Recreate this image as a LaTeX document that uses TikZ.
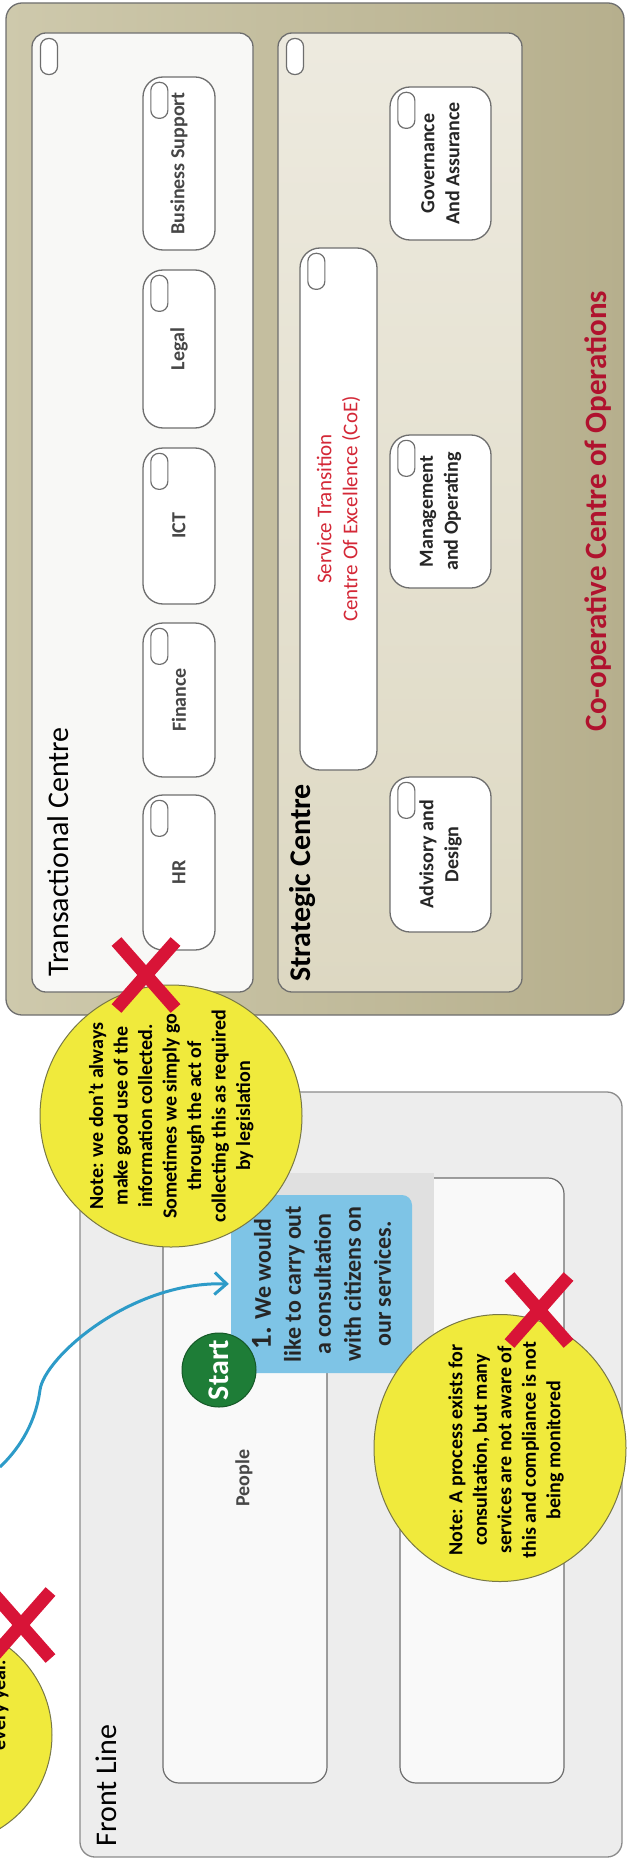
\documentclass[tikz,border=0pt]{standalone}
\usepackage{fontspec}
\setmainfont{Carlito}
\usepackage{xcolor}
\usetikzlibrary{shapes.geometric, shapes.misc, arrows.meta, positioning, calc}

\definecolor{coA}{RGB}{206,201,172}
\definecolor{coB}{RGB}{182,175,141}
\definecolor{transfill}{RGB}{248,248,246}
\definecolor{stratA}{RGB}{237,234,223}
\definecolor{stratB}{RGB}{221,216,194}
\definecolor{boxgrey}{RGB}{110,110,110}
\definecolor{tgrey}{RGB}{70,70,70}
\definecolor{titlered}{RGB}{176,18,46}
\definecolor{coered}{RGB}{212,40,55}
\definecolor{frontfill}{RGB}{237,237,237}
\definecolor{lanefill}{RGB}{249,249,249}
\definecolor{bandgrey}{RGB}{224,224,224}
\definecolor{noteyel}{RGB}{240,234,60}
\definecolor{noteline}{RGB}{120,120,70}
\definecolor{xred}{RGB}{216,20,55}
\definecolor{taskblue}{RGB}{126,196,230}
\definecolor{startgreen}{RGB}{30,125,55}
\definecolor{flowblue}{RGB}{45,155,200}

\begin{document}
\begin{tikzpicture}[x=1pt, y=-1pt,
  lbl/.style={rotate=90, inner sep=0pt},
  tbox/.style={rotate=90, draw=boxgrey, line width=1.3pt, fill=white, rounded corners=20pt, inner sep=2pt, align=center, text=tgrey, font=\fontsize{20}{25}\selectfont\bfseries, minimum height=72pt},
  sbox/.style={tbox, text=black!85, minimum height=101pt},
  knob/.style={draw=boxgrey, line width=1.2pt, fill=white, rounded corners=8pt, minimum width=17pt, minimum height=36pt, inner sep=0pt},
  bubble/.style={ellipse, draw=noteline, line width=1pt, fill=noteyel, inner sep=0pt},
  notetext/.style={rotate=90, align=center, inner sep=0pt, font=\fontsize{20}{24.5}\selectfont\bfseries},
  xmark/.style={cross out, draw=xred, line width=13pt, minimum width=46pt, minimum height=54pt, inner sep=0pt},
  flow/.style={draw=flowblue, line width=3pt, -{Straight Barb[length=12pt,width=22pt]}, shorten >=2pt}
]
\useasboundingbox (0,0) rectangle (628,1859);
\clip (0,0) rectangle (628,1859);

\draw[boxgrey, line width=1.3pt, rounded corners=16pt, left color=coA, right color=coB] (6,3) rectangle (624,1015);
\draw[boxgrey, line width=1.3pt, rounded corners=14pt, fill=transfill] (32,33) rectangle (253,992);
\draw[boxgrey, line width=1.3pt, rounded corners=14pt, top color=stratA, bottom color=stratB] (278,33) rectangle (522,992);
\node[lbl, text=titlered, font=\fontsize{31}{36}\selectfont\bfseries] (title) at (598,511) {Co-operative Centre of Operations};
\node[lbl, font=\fontsize{30}{36}\selectfont] (translbl) at (58,852) {Transactional Centre};
\node[lbl, font=\fontsize{30}{36}\selectfont\bfseries] (stratlbl) at (303,883) {Strategic Centre};
\node[knob] (k-trans) at (49,56.5) {};
\node[knob] (k-strat) at (295,56.5) {};

\node[tbox, minimum width=173pt] (bizsup) at (179,163.5) {Business Support};
\node[tbox, minimum width=158pt] (legal) at (179,349) {Legal};
\node[tbox, minimum width=156pt] (ict) at (179,526) {ICT};
\node[tbox, minimum width=154pt] (finance) at (179,700) {Finance};
\node[tbox, minimum width=155pt] (hr) at (179,872.5) {HR};

\node[sbox, minimum width=153pt] (gov) at (440.5,163.5) {Governance\\And Assurance};
\node[tbox, minimum width=522pt, minimum height=77pt, text=coered, font=\fontsize{21}{26}\selectfont] (coe) at (338.5,509) {Service Transition\\Centre Of Excellence (CoE)};
\node[sbox, minimum width=153pt] (mgmt) at (440.5,511.5) {Management\\and Operating};
\node[sbox, minimum width=155pt] (adv) at (440.5,854.5) {Advisory and\\Design};

\foreach \b in {bizsup,legal,ict,finance,hr,gov,coe,mgmt,adv}
  \node[knob] (k-\b) at ($(\b.north east)+(17,24)$) {};

\draw[boxgrey!80, line width=1.3pt, rounded corners=15pt, fill=frontfill] (80,1092) rectangle (622,1857);
\node[lbl, font=\fontsize{30}{36}\selectfont] (frontlbl) at (106,1785.5) {Front Line};
\draw[boxgrey, line width=1.2pt, rounded corners=16pt, fill=lanefill] (163,1178) rectangle (327,1783);
\draw[boxgrey, line width=1.2pt, rounded corners=16pt, fill=lanefill] (400,1178) rectangle (564,1783);
\fill[bandgrey] (231,1173) rectangle (434,1350);
\node[lbl, text=tgrey, font=\fontsize{20}{24}\selectfont\bfseries] (people) at (244,1478) {People};

\node[rotate=90, fill=taskblue, rounded corners=10pt, minimum width=178pt, minimum height=181pt, align=center, font=\fontsize{24}{30}\selectfont\bfseries, text=black!85] (task) at (321.5,1284) {{\fontsize{29}{30}\selectfont 1.} We would\\like to carry out\\a consultation\\with citizens on\\our services.};
\node[circle, fill=startgreen, draw=startgreen!70!black, line width=1pt, minimum size=74pt, inner sep=0pt, text=white, rotate=90, font=\fontsize{30}{36}\selectfont\bfseries] (start) at (219,1370) {Start};

\coordinate (offl) at (0,1467);
\draw[flow] (offl) .. controls (22,1446) and (36,1420) .. (40,1390) .. controls (44,1358) and (130,1281) .. (task.north);

\node[bubble, minimum width=262pt, minimum height=262pt] (n1) at (171,1116) {};
\node[notetext] (n1t) at (n1.center) {Note: we don’t always\\make good use of the\\information collected.\\Sometimes we simply go\\through the act of\\collecting this as required\\by legislation};
\node[bubble, minimum width=252pt, minimum height=267pt] (n3) at (500,1448) {};
\node[notetext] (n3t) at (506,1450) {Note: A process exists for\\consultation, but many\\services are not aware of\\this and compliance is not\\being monitored};
\node[bubble, minimum size=220pt] (n2) at (-58,1735) {};
\node[notetext] (n2t) at (2,1705) {every year.};

\node[xmark] (x1) at (146,975) {};
\node[xmark] (x3) at (539,1310) {};
\node[xmark] (x2) at (21,1625) {};
\end{tikzpicture}
\end{document}
